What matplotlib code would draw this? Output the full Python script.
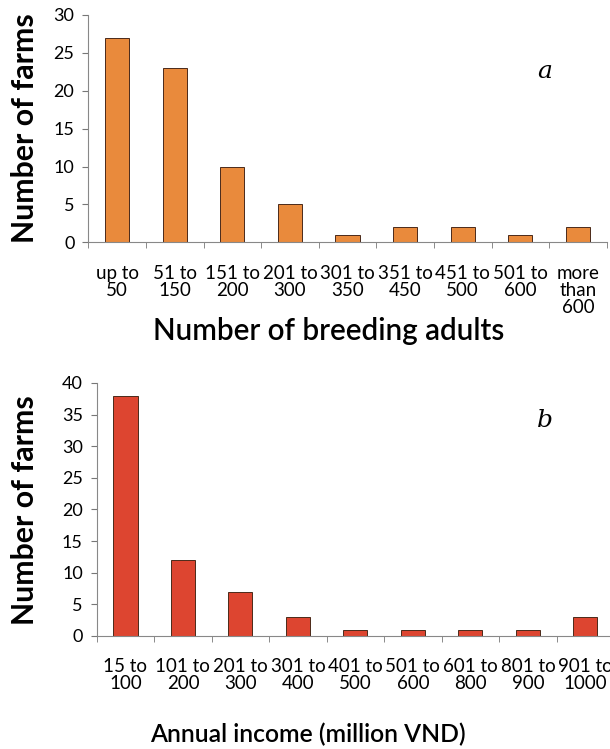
import matplotlib
matplotlib.use('Agg')
import matplotlib.pyplot as plt
import numpy as np

plt.rcParams['font.family'] = ['Lato', 'DejaVu Sans']

# panel a: herd size
adult_labels = ['up to\n50', '51 to\n150', '151 to\n200', '201 to\n300', '301 to\n350',
                '351 to\n450', '451 to\n500', '501 to\n600', 'more\nthan\n600']
adult_farms = [27, 23, 10, 5, 1, 2, 2, 1, 2]

# panel b: annual income
income_labels = ['15 to\n100', '101 to\n200', '201 to\n300', '301 to\n400', '401 to\n500',
                 '501 to\n600', '601 to\n800', '801 to\n900', '901 to\n1000']
income_farms = [38, 12, 7, 3, 1, 1, 1, 1, 3]

fig = plt.figure(figsize=(6.1, 7.49), dpi=100)

def draw_panel(ax, labels, values, color, ymax, ystep, xlabel, letter, letter_xy,
               xlab_xy, xlab_size, ylab_y):
    x = np.arange(len(values))
    ax.bar(x, values, width=0.42, color=color, edgecolor='#4a2a1a', linewidth=0.7)
    ax.set_xlim(-0.5, len(values) - 0.5)
    ax.set_ylim(0, ymax)
    ax.set_yticks(np.arange(0, ymax + 1, ystep))
    ax.set_xticks(x)
    ax.set_xticklabels(labels, fontsize=13.5, linespacing=1.02)
    ax.set_xticks(np.arange(-0.5, len(values), 1), minor=True)
    ax.tick_params(axis='x', which='major', length=0, pad=16)
    ax.tick_params(axis='x', which='minor', length=4, color='#777777', direction='out')
    ax.tick_params(axis='y', length=4, color='#777777', labelsize=13, pad=6)
    for s in ['top', 'right']:
        ax.spines[s].set_visible(False)
    for s in ['left', 'bottom']:
        ax.spines[s].set_color('#888888')
    fig.text(25 / 610, ylab_y, 'Number of farms', rotation=90, fontsize=21.8, fontweight='bold',
             ha='center', va='center')
    ax.text(letter_xy[0], letter_xy[1], letter, transform=ax.transAxes, fontsize=18,
            style='italic', family='DejaVu Serif', ha='center', va='center')
    fig.text(xlab_xy[0], xlab_xy[1], xlabel, ha='center', va='center', fontsize=xlab_size,
             fontweight='semibold')

ax1 = fig.add_axes([0.1448, 0.6765, 0.8498, 0.3035])
draw_panel(ax1, adult_labels, adult_farms, '#E98A3C', 30, 5,
           'Number of breeding adults', 'a', (0.881, 0.75),
           (329 / 610, 1 - 331 / 749), 21.3, 1 - 128 / 749)

ax2 = fig.add_axes([0.1585, 0.1509, 0.8483, 0.3378])
draw_panel(ax2, income_labels, income_farms, '#DD4530', 40, 5,
           'Annual income (million VND)', 'b', (0.866, 0.85),
           (308 / 610, 1 - 734 / 749), 17.8, 1 - 510 / 749)

fig.savefig('out.png', dpi=100)
